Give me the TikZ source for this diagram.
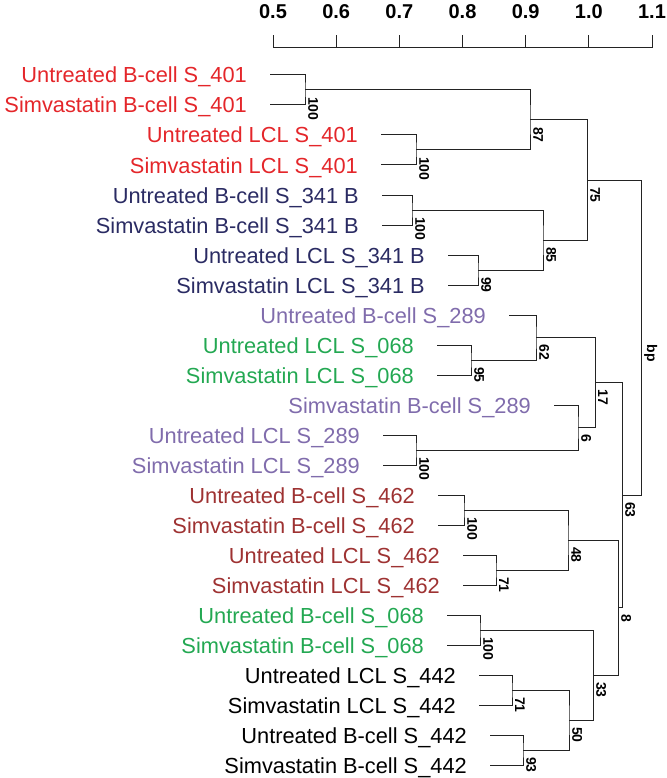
\documentclass[tikz,border=0pt]{standalone}
\usepackage{fontspec}
\setmainfont{Liberation Sans}
\definecolor{cred}{RGB}{228,38,42}
\definecolor{cnavy}{RGB}{42,43,99}
\definecolor{cpurple}{RGB}{128,108,172}
\definecolor{cgreen}{RGB}{35,168,82}
\definecolor{cbrown}{RGB}{158,50,50}
\definecolor{cline}{RGB}{35,35,35}
\newcommand\mkleaf[5]{%
  \coordinate (#1) at (#3,#2);
  \node[leaflabel,text=#4] (t#1) at (#3-23,#2+8) {#5};}
\newcommand\mknode[6]{%
  \coordinate (#1) at (#2,#3);
  \draw[branch] (#4) -| (#1) |- (#5);
  \node[bslabel] (l#1) at (#2+3,#3+7) {#6};}
\begin{document}
\begin{tikzpicture}[x=1pt,y=-1pt,
  leaflabel/.style={font=\fontsize{21.8}{24}\selectfont, anchor=base east, inner sep=0pt},
  bslabel/.style={font=\bfseries\fontsize{14}{16}\selectfont, rotate=-90, anchor=south west, inner sep=0pt},
  ticklabel/.style={font=\bfseries\fontsize{20}{22}\selectfont, anchor=base, inner sep=0pt},
  branch/.style={line width=1pt, draw=cline},
  axisline/.style={line width=1pt, draw=cline}]
\useasboundingbox (0,0) rectangle (666,778);
% axis
\coordinate (ax0) at (273,48);
\coordinate (ax1) at (652,48);
\draw[axisline] (ax0) -- (ax1);
\foreach \k/\v in {0/0.5,1/0.6,2/0.7,3/0.8,4/0.9,5/1.0,6/1.1}{
  \coordinate (tk\k) at ({273+63.17*\k},48);
  \draw[axisline] (tk\k) -- ++(0,-13);
  \node[ticklabel] (tl\k) at ({273+63.17*\k},18.5) {\v};
}
% leaves
\mkleaf{L1}{75}{270}{cred}{Untreated B-cell S\_401}
\mkleaf{L2}{105}{270}{cred}{Simvastatin B-cell S\_401}
\mkleaf{L3}{135}{381}{cred}{Untreated LCL S\_401}
\mkleaf{L4}{165}{381}{cred}{Simvastatin LCL S\_401}
\mkleaf{L5}{195}{382}{cnavy}{Untreated B-cell S\_341 B}
\mkleaf{L6}{225}{382}{cnavy}{Simvastatin B-cell S\_341 B}
\mkleaf{L7}{255}{448}{cnavy}{Untreated LCL S\_341 B}
\mkleaf{L8}{285}{448}{cnavy}{Simvastatin LCL S\_341 B}
\mkleaf{L9}{315}{509}{cpurple}{Untreated B-cell S\_289}
\mkleaf{L10}{345}{437}{cgreen}{Untreated LCL S\_068}
\mkleaf{L11}{375}{437}{cgreen}{Simvastatin LCL S\_068}
\mkleaf{L12}{405}{554}{cpurple}{Simvastatin B-cell S\_289}
\mkleaf{L13}{435}{383}{cpurple}{Untreated LCL S\_289}
\mkleaf{L14}{465}{383}{cpurple}{Simvastatin LCL S\_289}
\mkleaf{L15}{495}{438}{cbrown}{Untreated B-cell S\_462}
\mkleaf{L16}{525}{438}{cbrown}{Simvastatin B-cell S\_462}
\mkleaf{L17}{555}{463}{cbrown}{Untreated LCL S\_462}
\mkleaf{L18}{585}{463}{cbrown}{Simvastatin LCL S\_462}
\mkleaf{L19}{615}{447}{cgreen}{Untreated B-cell S\_068}
\mkleaf{L20}{645}{447}{cgreen}{Simvastatin B-cell S\_068}
\mkleaf{L21}{675}{479}{black}{Untreated LCL S\_442}
\mkleaf{L22}{705}{479}{black}{Simvastatin LCL S\_442}
\mkleaf{L23}{735}{490}{black}{Untreated B-cell S\_442}
\mkleaf{L24}{765}{490}{black}{Simvastatin B-cell S\_442}
% internal nodes
\mknode{a1}{305}{90}{L1}{L2}{100}
\mknode{a2}{416}{150}{L3}{L4}{100}
\mknode{a87}{530}{120}{a1}{a2}{87}
\mknode{a3}{412}{210}{L5}{L6}{100}
\mknode{a4}{478}{270}{L7}{L8}{99}
\mknode{a85}{543}{240}{a3}{a4}{85}
\mknode{a75}{587}{180}{a87}{a85}{75}
\mknode{b1}{471}{360}{L10}{L11}{95}
\mknode{b62}{536}{337.5}{L9}{b1}{62}
\mknode{b2}{416}{450}{L13}{L14}{100}
\mknode{b6}{578}{427.5}{L12}{b2}{6}
\mknode{b17}{595}{382.5}{b62}{b6}{17}
\mknode{c1}{464}{510}{L15}{L16}{100}
\mknode{c2}{496}{570}{L17}{L18}{71}
\mknode{c48}{568}{540}{c1}{c2}{48}
\mknode{d1}{480}{630}{L19}{L20}{100}
\mknode{d2}{512}{690}{L21}{L22}{71}
\mknode{d3}{523}{750}{L23}{L24}{93}
\mknode{d50}{569}{720}{d2}{d3}{50}
\mknode{d33}{593}{675}{d1}{d50}{33}
\mknode{c8}{618}{607.5}{c48}{d33}{8}
\mknode{b63}{622}{495}{b17}{c8}{63}
\mknode{root}{641}{337.5}{a75}{b63}{bp}
\end{tikzpicture}
\end{document}
